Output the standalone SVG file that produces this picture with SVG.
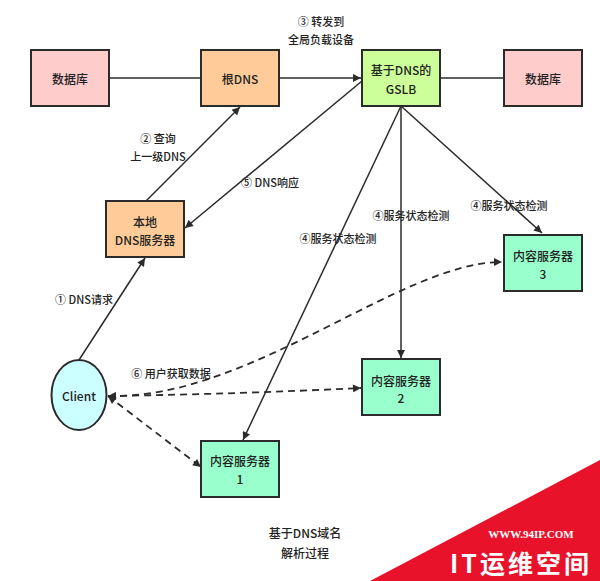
<svg xmlns="http://www.w3.org/2000/svg" width="600" height="581" viewBox="0 0 600 581">
<defs>
<style>
text{font-family:"Noto Sans CJK SC","Liberation Sans",sans-serif;font-size:12px;font-weight:500;fill:#222;text-anchor:middle;dominant-baseline:central}
.lbl{font-size:11px}
.box{stroke:#2b2b2b;stroke-width:2}
.ln{stroke:#2b2b2b;stroke-width:1.5;fill:none}
.ds{stroke:#2b2b2b;stroke-width:1.8;fill:none;stroke-dasharray:7 5}
</style>
<marker id="ah" viewBox="0 0 10 10" refX="10" refY="5" markerWidth="10" markerHeight="8" markerUnits="userSpaceOnUse" orient="auto-start-reverse">
<path d="M0,0 L10,5 L0,10 z" fill="#2b2b2b"/>
</marker>
</defs>
<rect width="600" height="581" fill="#fff"/>
<g id="connectors">
<line class="ln" x1="109" y1="78" x2="201" y2="78"/>
<line class="ln" x1="279" y1="78" x2="361" y2="78" marker-end="url(#ah)"/>
<line class="ln" x1="440" y1="78" x2="504" y2="78"/>
<line class="ln" x1="146" y1="201" x2="240" y2="107" marker-end="url(#ah)"/>
<line class="ln" x1="362" y1="81" x2="185" y2="228" marker-end="url(#ah)"/>
<line class="ln" x1="79" y1="360" x2="145" y2="258" marker-end="url(#ah)"/>
<line class="ln" x1="401" y1="106" x2="243" y2="440" marker-end="url(#ah)"/>
<line class="ln" x1="401" y1="106" x2="401" y2="358" marker-end="url(#ah)"/>
<line class="ln" x1="401" y1="106" x2="542" y2="233" marker-end="url(#ah)"/>
<line class="ds" x1="108" y1="396" x2="201" y2="467" marker-start="url(#ah)" marker-end="url(#ah)"/>
<path class="ds" d="M108,396 Q240,394 361,388" marker-start="url(#ah)" marker-end="url(#ah)"/>
<path class="ds" d="M108,396 C250,400 400,262 502,262" marker-end="url(#ah)"/>
</g>
<g id="db1"><rect class="box" x="31" y="50" width="78" height="56" fill="#ffcccc"/><text x="70" y="78">数据库</text></g>
<g id="rootdns"><rect class="box" x="201" y="50" width="78" height="56" fill="#ffcc99"/><text x="240" y="78">根DNS</text></g>
<g id="gslb"><rect class="box" x="362" y="50" width="78" height="56" fill="#ccff99"/><text x="401" y="69">基于DNS的</text><text x="401" y="88">GSLB</text></g>
<g id="db2"><rect class="box" x="504" y="50" width="78" height="56" fill="#ffcccc"/><text x="543" y="78">数据库</text></g>
<g id="localdns"><rect class="box" x="106" y="201" width="78" height="56" fill="#ffcc99"/><text x="145" y="221">本地</text><text x="145" y="239">DNS服务器</text></g>
<g id="client"><ellipse class="box" cx="79" cy="395" rx="27.5" ry="35" fill="#ccffff"/><text x="79" y="395">Client</text></g>
<g id="cs1"><rect class="box" x="201" y="441" width="78" height="56" fill="#99ffcc"/><text x="240" y="460">内容服务器</text><text x="240" y="478">1</text></g>
<g id="cs2"><rect class="box" x="362" y="359" width="78" height="56" fill="#99ffcc"/><text x="401" y="380">内容服务器</text><text x="401" y="397">2</text></g>
<g id="cs3"><rect class="box" x="504" y="235" width="78" height="56" fill="#99ffcc"/><text x="543" y="255">内容服务器</text><text x="543" y="273">3</text></g>
<g id="labels">
<text class="lbl" x="321" y="21">③  转发到</text>
<text class="lbl" x="321" y="39">全局负载设备</text>
<text class="lbl" x="158" y="138">②  查询</text>
<text class="lbl" x="158" y="156">上一级DNS</text>
<text class="lbl" x="270" y="182">⑤ DNS响应</text>
<text class="lbl" x="338" y="238">④服务状态检测</text>
<text class="lbl" x="411" y="215">④服务状态检测</text>
<text class="lbl" x="509" y="205">④服务状态检测</text>
<text class="lbl" x="84" y="299">①  DNS请求</text>
<text class="lbl" x="171" y="373">⑥ 用户获取数据</text>
<text x="305" y="532">基于DNS域名</text>
<text x="305" y="552">解析过程</text>
</g>
<g id="watermark">
<polygon points="370,581 600,460 600,581" fill="#e8132b"/>
<text x="531" y="534" style="font-family:'Liberation Serif',serif;font-weight:bold;font-size:11px;fill:#fff">WWW.94IP.COM</text>
<text x="521" y="562" style="font-family:'Noto Sans CJK SC',sans-serif;font-weight:bold;font-size:25px;fill:#fff;letter-spacing:3px">IT运维空间</text>
</g>
</svg>
